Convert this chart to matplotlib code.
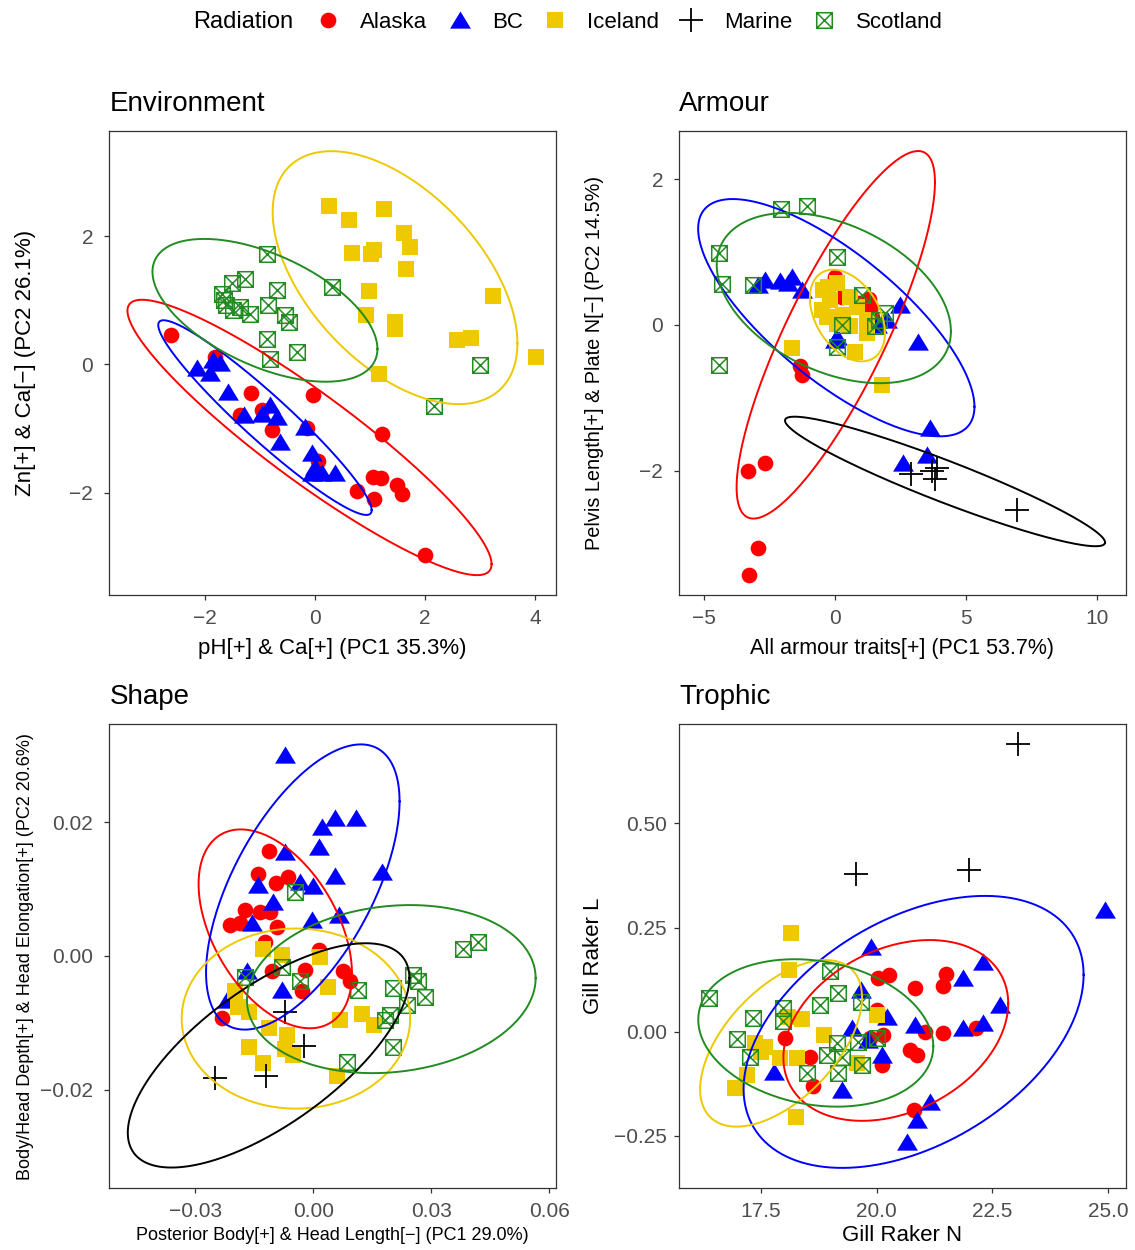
import numpy as np
import matplotlib
matplotlib.use("Agg")
import matplotlib.pyplot as plt
from matplotlib.path import Path
from matplotlib.lines import Line2D
from matplotlib.ticker import FuncFormatter

plt.rcParams['font.family'] = ['Liberation Sans', 'DejaVu Sans']

# ---------------- data ----------------
groups = ["Alaska", "BC", "Iceland", "Marine", "Scotland"]

# Environment
env_alaska_x = [-2.62, -1.82, -1.16, -0.03, -1.36, -0.97, -0.79, -0.15, 1.21, 0.06, 1.06, 1.20, 1.49, 1.58, 0.77, 1.07, 2.00]
env_alaska_y = [0.46, 0.12, -0.45, -0.48, -0.79, -0.71, -1.03, -1.00, -1.08, -1.50, -1.76, -1.77, -1.89, -2.02, -1.97, -2.10, -2.97]
env_bc_x = [-2.15, -1.85, -1.73, -1.91, -1.58, -1.30, -0.97, -0.82, -0.70, -0.64, -0.18, -0.06, 0.00, 0.12, 0.36, -0.06]
env_bc_y = [-0.06, 0.07, 0.02, -0.14, -0.43, -0.79, -0.77, -0.64, -0.82, -1.21, -0.97, -1.39, -1.60, -1.70, -1.70, -1.70]
env_ice_x = [0.25, 0.62, 1.25, 1.62, 1.73, 0.68, 1.01, 1.07, 1.65, 0.98, 3.24, 0.93, 1.45, 1.45, 2.59, 2.83, 4.01, 1.17]
env_ice_y = [2.47, 2.26, 2.42, 2.05, 1.84, 1.74, 1.73, 1.78, 1.49, 1.15, 1.07, 0.77, 0.66, 0.55, 0.38, 0.42, 0.12, -0.15]
env_mar_x = []
env_mar_y = []
env_sco_x = [-0.87, -1.27, -1.51, -1.70, -0.70, 0.30, -1.61, -1.36, -1.49, -1.18, -0.85, -0.55, -0.47, -0.88, -0.33, -0.82, 3.00, 2.17, -1.65]
env_sco_y = [1.72, 1.33, 1.27, 1.10, 1.16, 1.21, 0.93, 0.90, 0.85, 0.78, 0.93, 0.77, 0.66, 0.39, 0.20, 0.09, -0.01, -0.65, 1.00]

# Armour
arm_alaska_x = [-3.34, -2.68, -2.93, -3.28, -1.34, -1.25, 0.00, 1.34, 1.40, 1.30, 0.26, 0.90]
arm_alaska_y = [-2.01, -1.89, -3.07, -3.43, -0.57, -0.69, 0.66, 0.25, 0.11, 0.35, 0.39, 0.30]
arm_bc_x = [-2.68, -2.93, -2.10, -1.66, -1.78, -1.27, 2.48, 1.98, 3.19, 0.06, 0.00, 3.63, 3.50, 2.61, 1.60]
arm_bc_y = [0.62, 0.55, 0.60, 0.66, 0.57, 0.48, 0.27, 0.07, -0.23, -0.16, -0.20, -1.42, -1.79, -1.90, 0.00]
arm_ice_x = [-0.45, -0.19, 0.06, 0.57, -0.51, -0.32, 0.32, 0.83, 0.06, 0.57, 1.21, 0.76, -1.66, 1.78, -0.25, 1.21]
arm_ice_y = [0.48, 0.34, 0.57, 0.39, 0.21, 0.11, 0.14, 0.25, 0.02, -0.02, -0.11, -0.37, -0.32, -0.82, 0.52, 0.07]
arm_mar_x = [2.89, 3.82, 3.89, 6.94, 3.70]
arm_mar_y = [-2.05, -2.11, -1.97, -2.54, -2.00]
arm_sco_x = [-2.06, -1.08, -4.42, -4.33, -3.12, 0.06, -4.42, 1.02, 1.91, 1.53, 0.06, 0.25, 1.70]
arm_sco_y = [1.60, 1.63, 0.99, 0.56, 0.55, 0.94, -0.55, 0.41, 0.16, -0.02, -0.30, 0.00, 0.07]

# Shape
shp_alaska_x = [-0.0112, -0.0140, -0.0095, -0.0064, -0.0174, -0.0212, -0.0186, -0.0136, -0.0110, -0.0093, -0.0123, 0.0013, -0.0106, -0.0021, 0.0076, 0.0093, -0.0030, -0.0233]
shp_alaska_y = [0.0157, 0.0122, 0.0109, 0.0118, 0.0069, 0.0046, 0.0049, 0.0066, 0.0066, 0.0044, 0.0021, 0.0009, -0.0023, -0.0021, -0.0023, -0.0038, -0.0053, -0.0093]
shp_bc_x = [-0.0072, 0.0021, 0.0055, 0.0109, 0.0013, -0.0072, 0.0174, 0.0055, 0.0000, -0.0034, -0.0142, -0.0102, -0.0004, 0.0064, -0.0157, -0.0169, -0.0080, -0.0220]
shp_bc_y = [0.0300, 0.0193, 0.0206, 0.0206, 0.0163, 0.0156, 0.0126, 0.0119, 0.0104, 0.0111, 0.0106, 0.0081, 0.0054, 0.0061, 0.0049, -0.0023, -0.0051, -0.0066]
shp_ice_x = [-0.0127, -0.0080, 0.0017, -0.0199, -0.0191, -0.0165, -0.0114, -0.0068, -0.0165, -0.0072, -0.0051, -0.0127, 0.0038, 0.0068, 0.0123, 0.0153, 0.0059]
shp_ice_y = [0.0011, 0.0001, -0.0002, -0.0053, -0.0076, -0.0083, -0.0108, -0.0118, -0.0136, -0.0139, -0.0148, -0.0160, -0.0046, -0.0096, -0.0086, -0.0103, -0.0180]
shp_mar_x = [-0.0250, -0.0120, -0.0072, -0.0024]
shp_mar_y = [-0.0183, -0.0180, -0.0083, -0.0134]
shp_sco_x = [-0.0047, 0.0381, 0.0418, -0.0080, -0.0174, -0.0034, 0.0114, 0.0254, 0.0267, 0.0203, 0.0284, 0.0237, 0.0195, 0.0182, 0.0203, 0.0085]
shp_sco_y = [0.0096, 0.0011, 0.0021, -0.0016, -0.0031, -0.0038, -0.0051, -0.0028, -0.0038, -0.0048, -0.0061, -0.0073, -0.0088, -0.0095, -0.0136, -0.0158]

# Trophic
tro_alaska_x = [20.03, 20.27, 20.83, 21.50, 21.43, 20.00, 21.04, 21.44, 22.15, 20.14, 19.86, 18.02, 18.56, 20.72, 20.86, 20.11, 18.62, 20.81]
tro_alaska_y = [0.128, 0.136, 0.106, 0.138, 0.110, 0.052, 0.000, -0.004, 0.008, -0.008, -0.016, -0.016, -0.060, -0.044, -0.056, -0.080, -0.130, -0.188]
tro_bc_x = [24.93, 19.87, 22.30, 21.86, 22.66, 19.66, 20.22, 19.46, 20.83, 21.87, 22.30, 20.11, 17.77, 19.24, 21.15, 20.86, 20.66, 19.80]
tro_bc_y = [0.292, 0.204, 0.168, 0.128, 0.064, 0.100, 0.036, 0.008, 0.016, 0.008, 0.020, -0.056, -0.096, -0.140, -0.168, -0.212, -0.264, -0.020]
tro_ice_x = [18.14, 18.11, 20.00, 18.09, 18.38, 18.85, 17.37, 17.59, 17.50, 17.91, 18.27, 19.57, 17.19, 16.94, 18.26]
tro_ice_y = [0.236, 0.148, 0.040, 0.036, 0.030, -0.008, -0.028, -0.036, -0.048, -0.064, -0.064, -0.076, -0.104, -0.136, -0.204]
tro_mar_x = [23.05, 19.55, 21.99]
tro_mar_y = [0.690, 0.378, 0.388]
tro_sco_x = [16.38, 18.99, 19.17, 17.32, 17.98, 18.78, 19.65, 17.97, 16.97, 17.25, 19.14, 18.92, 19.24, 19.60, 20.00, 18.49, 19.17, 19.68]
tro_sco_y = [0.082, 0.146, 0.092, 0.032, 0.058, 0.064, 0.072, 0.026, -0.018, -0.060, -0.028, -0.056, -0.060, -0.024, -0.016, -0.100, -0.100, -0.080]

# 95% ellipses: (centre x, centre y, half-width x, half-height y, correlation)
env_ellipses = {"Alaska": (-0.10, -1.14, 3.31, 2.15, -0.92),
                "BC": (-0.91, -0.83, 1.94, 1.52, -0.95),
                "Iceland": (1.455, 1.355, 2.225, 1.975, -0.52),
                "Scotland": (-0.91, 0.845, 2.045, 1.115, -0.54)}
arm_ellipses = {"Alaska": (0.03, -0.135, 3.79, 2.525, 0.83),
                "BC": (0.05, 0.10, 5.28, 1.63, -0.75),
                "Iceland": (0.475, 0.13, 1.435, 0.63, -0.38),
                "Marine": (4.205, -2.15, 6.115, 0.89, -0.94),
                "Scotland": (-0.045, 0.37, 4.475, 1.17, -0.39)}
shp_ellipses = {"Alaska": (-0.0097, 0.00405, 0.0195, 0.01485, -0.45),
                "BC": (-0.0027, 0.0103, 0.0246, 0.0213, 0.60),
                "Iceland": (-0.00445, -0.00935, 0.02905, 0.01345, 0.0),
                "Marine": (-0.0114, -0.01485, 0.0358, 0.01675, 0.69),
                "Scotland": (0.0198, -0.00495, 0.0367, 0.01255, 0.13)}
tro_ellipses = {"Alaska": (20.41, 0.003, 2.43, 0.217, 0.30),
                "BC": (20.795, -0.0005, 3.675, 0.3265, 0.42),
                "Iceland": (17.93, -0.028, 1.75, 0.200, 0.55),
                "Scotland": (18.68, -0.003, 2.54, 0.177, -0.18)}

# ---------------- styles ----------------
colors = {"Alaska": "#FF0000", "BC": "#0000FF", "Iceland": "#EEC900",
          "Marine": "#000000", "Scotland": "#228B22"}
tri_path = Path([(0, 1.0), (-1.15, -0.9), (1.15, -0.9), (0, 1.0)],
                [Path.MOVETO, Path.LINETO, Path.LINETO, Path.CLOSEPOLY])
boxx_path = Path([(-1, -1), (1, -1), (1, 1), (-1, 1), (-1, -1),
                  (-1, -1), (1, 1), (-1, 1), (1, -1)],
                 [Path.MOVETO, Path.LINETO, Path.LINETO, Path.LINETO, Path.CLOSEPOLY,
                  Path.MOVETO, Path.LINETO, Path.MOVETO, Path.LINETO])
mstyle = {
    "Alaska": dict(marker="o", ms=11.3, mfc=colors["Alaska"], mec=colors["Alaska"], mew=0),
    "BC": dict(marker=tri_path, ms=15, mfc=colors["BC"], mec=colors["BC"], mew=0),
    "Iceland": dict(marker="s", ms=11.2, mfc=colors["Iceland"], mec=colors["Iceland"], mew=0),
    "Marine": dict(marker="+", ms=17, mfc="none", mec=colors["Marine"], mew=1.3),
    "Scotland": dict(marker=boxx_path, ms=11.2, mfc="none", mec=colors["Scotland"], mew=1.1),
}

W, H = 1135, 1250
fig = plt.figure(figsize=(W / 100, H / 100), dpi=100)
fig.patch.set_facecolor("white")


def make_ax(x0, y0, x1, y1):
    return fig.add_axes([x0 / W, 1 - y1 / H, (x1 - x0) / W, (y1 - y0) / H])


def style_ax(ax, ypad):
    for s in ax.spines.values():
        s.set_color("#333333")
        s.set_linewidth(0.9)
    ax.tick_params(direction="out", length=3.6, width=0.9, color="#333333",
                   labelsize=15, labelcolor="#4D4D4D")
    ax.tick_params(axis="x", pad=6.3)
    ax.tick_params(axis="y", pad=ypad)


def draw_panel(ax, data, ellipses):
    for g in groups:
        xs, ys = data[g]
        if len(xs):
            ax.plot(xs, ys, ls="none", zorder=2, **mstyle[g])
    t = np.linspace(0, 2 * np.pi, 300)
    for g in groups:
        if g in ellipses:
            cx, cy, sx, sy, r = ellipses[g]
            ex = cx + sx * np.cos(t)
            ey = cy + sy * (r * np.cos(t) + np.sqrt(1 - r * r) * np.sin(t))
            ax.plot(ex, ey, color=colors[g], lw=1.4, zorder=3)


def minus_fmt(fmt):
    return FuncFormatter(lambda v, p: (fmt % v).replace("-", "\u2212"))


ax1 = make_ax(109.3, 131, 555.7, 595)
ax2 = make_ax(679.3, 131, 1125.7, 595)
ax3 = make_ax(109.3, 724.3, 555.7, 1188.3)
ax4 = make_ax(679.3, 724.3, 1125.7, 1188.3)
style_ax(ax1, 8.1)
style_ax(ax2, 8.1)
style_ax(ax3, 8.1)
style_ax(ax4, 5.5)

draw_panel(ax1, {"Alaska": (env_alaska_x, env_alaska_y), "BC": (env_bc_x, env_bc_y),
                 "Iceland": (env_ice_x, env_ice_y), "Marine": (env_mar_x, env_mar_y),
                 "Scotland": (env_sco_x, env_sco_y)}, env_ellipses)
draw_panel(ax2, {"Alaska": (arm_alaska_x, arm_alaska_y), "BC": (arm_bc_x, arm_bc_y),
                 "Iceland": (arm_ice_x, arm_ice_y), "Marine": (arm_mar_x, arm_mar_y),
                 "Scotland": (arm_sco_x, arm_sco_y)}, arm_ellipses)
draw_panel(ax3, {"Alaska": (shp_alaska_x, shp_alaska_y), "BC": (shp_bc_x, shp_bc_y),
                 "Iceland": (shp_ice_x, shp_ice_y), "Marine": (shp_mar_x, shp_mar_y),
                 "Scotland": (shp_sco_x, shp_sco_y)}, shp_ellipses)
draw_panel(ax4, {"Alaska": (tro_alaska_x, tro_alaska_y), "BC": (tro_bc_x, tro_bc_y),
                 "Iceland": (tro_ice_x, tro_ice_y), "Marine": (tro_mar_x, tro_mar_y),
                 "Scotland": (tro_sco_x, tro_sco_y)}, tro_ellipses)

# axes limits and ticks
ax1.set_xlim(-3.74, 4.376); ax1.set_ylim(-3.60, 3.645)
ax1.set_xticks([-2, 0, 2, 4]); ax1.set_yticks([-2, 0, 2])
ax1.xaxis.set_major_formatter(minus_fmt("%g")); ax1.yaxis.set_major_formatter(minus_fmt("%g"))

ax2.set_xlim(-5.95, 11.11); ax2.set_ylim(-3.71, 2.665)
ax2.set_xticks([-5, 0, 5, 10]); ax2.set_yticks([-2, 0, 2])
ax2.xaxis.set_major_formatter(minus_fmt("%g")); ax2.yaxis.set_major_formatter(minus_fmt("%g"))

ax3.set_xlim(-0.0519, 0.0616); ax3.set_ylim(-0.0347, 0.0346)
ax3.set_xticks([-0.03, 0.0, 0.03, 0.06]); ax3.set_yticks([-0.02, 0.0, 0.02])
ax3.xaxis.set_major_formatter(minus_fmt("%.2f")); ax3.yaxis.set_major_formatter(minus_fmt("%.2f"))

ax4.set_xlim(15.73, 25.38); ax4.set_ylim(-0.376, 0.738)
ax4.set_xticks([17.5, 20.0, 22.5, 25.0]); ax4.set_yticks([-0.25, 0.0, 0.25, 0.50])
ax4.xaxis.set_major_formatter(minus_fmt("%.1f")); ax4.yaxis.set_major_formatter(minus_fmt("%.2f"))

# titles
for ax, t in ((ax1, "Environment"), (ax2, "Armour"), (ax3, "Shape"), (ax4, "Trophic")):
    ax.set_title(t, loc="left", fontsize=20, pad=14.5, color="black")

# axis labels
ax1.set_xlabel("pH[+] & Ca[+] (PC1 35.3%)", fontsize=16, labelpad=7.5)
ax1.set_ylabel("Zn[+] & Ca[\u2212] (PC2 26.1%)", fontsize=16, labelpad=24.3)
ax2.set_xlabel("All armour traits[+] (PC1 53.7%)", fontsize=15.5, labelpad=7.5)
ax2.set_ylabel("Pelvis Length[+] & Plate N[\u2212] (PC2 14.5%)", fontsize=14.3, labelpad=25.7)
ax3.set_xlabel("Posterior Body[+] & Head Length[\u2212] (PC1 29.0%)", fontsize=13, labelpad=4.5)
ax3.set_ylabel("Body/Head Depth[+] & Head Elongation[+] (PC2 20.6%)", fontsize=13, labelpad=4.6)
ax4.set_xlabel("Gill Raker N", fontsize=16, labelpad=2.5)
ax4.set_ylabel("Gill Raker L", fontsize=16, labelpad=7)

# legend
handles = [Line2D([], [], ls="none", **mstyle[g]) for g in groups]
fig.text(193 / W, 1 - 22 / H, "Radiation", fontsize=17, va="center", ha="left")
fig.legend(handles, groups, loc="center left", bbox_to_anchor=(317 / W, 1 - 22 / H),
           ncol=5, frameon=False, fontsize=16, handlelength=1.0, handletextpad=0.95,
           columnspacing=0.95, borderpad=0, borderaxespad=0)

fig.savefig("out.png", dpi=100, facecolor="white")
